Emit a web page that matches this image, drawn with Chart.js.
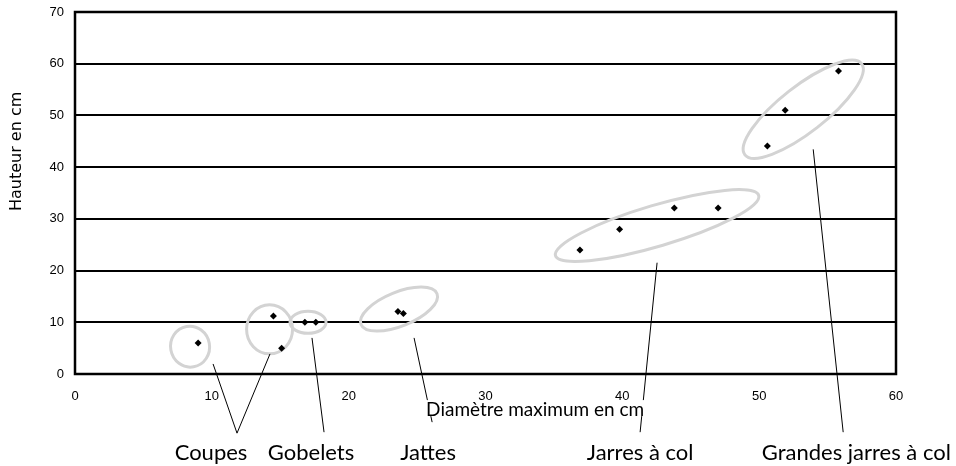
<!DOCTYPE html>
<html>
<head>
<meta charset="utf-8">
<script src="https://cdn.jsdelivr.net/npm/chart.js@4"></script>
<style>
  body { margin: 0; background: #fff; }
  #wrap { width: 956px; height: 466px; }
</style>
</head>
<body>
<div id="wrap"><canvas id="canvas-1"></canvas></div>
<script>
// valeurs
const groupes = ['Coupes', 'Gobelets', 'Jattes', 'Jarres à col', 'Grandes jarres à col']
const diametre = [9, 14.5, 15.1, 16.8, 17.6, 23.6, 24, 36.9, 39.8, 43.8, 47, 50.6, 51.9, 55.8]
const hauteur = [6, 11.2, 5, 10, 10, 12.1, 11.7, 24, 28, 32.1, 32.1, 44.1, 51, 58.6]
const ticksX = [0, 10, 20, 30, 40, 50, 60]
const ticksY = [0, 10, 20, 30, 40, 50, 60, 70]

// ellipses grises autour des groupes (centre en unites, rayons en px, angle en degres)
const ellipses = [
  { x: 8.41, y: 5.29, rx: 19.5, ry: 20.5, a: -10 },
  { x: 14.22, y: 8.63, rx: 23, ry: 24.5, a: 0 },
  { x: 17.03, y: 9.99, rx: 18, ry: 11, a: 0 },
  { x: 23.68, y: 12.55, rx: 41, ry: 17, a: -22 },
  { x: 42.54, y: 28.7, rx: 106, ry: 20.5, a: -16.5 },
  { x: 53.22, y: 51.19, rx: 74, ry: 23, a: -38 }
]

// traits de rappel vers les etiquettes
const traits = [
  [10.09, 1.94, 11.84, -11.44],
  [14.25, 3.88, 11.84, -11.44],
  [17.32, 6.98, 18.2, -11.25],
  [24.78, 6.98, 26.1, -9.31],
  [42.54, 21.52, 41.3, -11.25],
  [53.95, 43.44, 56.14, -11.25]
]
const etiquettesX = [9.94, 17.25, 25.8, 41.3, 57.1]
const etiquetteY = -15.32

const points = diametre.map((d, i) => ({ x: d, y: hauteur[i] }))

const decor = {
  id: 'decor',
  beforeDatasetsDraw(chart) {
    const ctx = chart.ctx
    const xs = chart.scales.x
    const ys = chart.scales.y
    const ca = chart.chartArea
    ctx.save()
    // cadre
    ctx.strokeStyle = '#000'
    ctx.lineWidth = 2.5
    ctx.strokeRect(ca.left, ca.top, ca.right - ca.left, ca.bottom - ca.top)
    // ellipses
    ctx.strokeStyle = '#d3d3d3'
    ctx.lineWidth = 3
    ellipses.forEach(e => {
      ctx.beginPath()
      ctx.ellipse(xs.getPixelForValue(e.x), ys.getPixelForValue(e.y), e.rx, e.ry, e.a * Math.PI / 180, 0, Math.PI * 2)
      ctx.stroke()
    })
    ctx.restore()
  },
  afterDraw(chart) {
    const ctx = chart.ctx
    const xs = chart.scales.x
    const ys = chart.scales.y
    const ca = chart.chartArea
    ctx.save()
    ctx.strokeStyle = '#000'
    ctx.lineWidth = 1
    traits.forEach(t => {
      ctx.beginPath()
      ctx.moveTo(xs.getPixelForValue(t[0]), ys.getPixelForValue(t[1]))
      ctx.lineTo(xs.getPixelForValue(t[2]), ys.getPixelForValue(t[3]))
      ctx.stroke()
    })
    // titre de l'axe X, sur fond blanc
    ctx.font = '19px Lato'
    ctx.textAlign = 'center'
    ctx.textBaseline = 'middle'
    const titre = 'Diamètre maximum en cm'
    const tx = xs.getPixelForValue(33.63)
    const ty = ys.getPixelForValue(-6.98)
    const w = ctx.measureText(titre).width
    ctx.fillStyle = '#fff'
    ctx.fillRect(tx - w / 2 - 2, ty - 10, w + 4, 16)
    ctx.fillStyle = '#000'
    ctx.fillText(titre, tx, ty)
    // etiquettes des groupes
    ctx.font = '22px Lato'
    groupes.forEach((g, i) => {
      ctx.fillText(g, xs.getPixelForValue(etiquettesX[i]), ys.getPixelForValue(etiquetteY))
    })
    // titre de l'axe Y
    ctx.font = '16px "DejaVu Sans"'
    ctx.translate(ca.left - 58, ys.getPixelForValue(43.05))
    ctx.rotate(-Math.PI / 2)
    ctx.fillText('Hauteur en cm', 0, 0)
    ctx.restore()
  }
}

const scatterChart = new Chart(document.getElementById('canvas-1'), {
  type: 'scatter',
  data: {
    datasets: [{
      data: points,
      pointStyle: 'rectRot',
      pointRadius: 3.5,
      pointBackgroundColor: '#000',
      pointBorderColor: '#000',
      pointBorderWidth: 0
    }]
  },
  options: {
    responsive: true,
    maintainAspectRatio: false,
    animation: false,
    layout: { padding: { left: 0, right: 60, top: 12, bottom: 0 } },
    plugins: { legend: { display: false }, tooltip: { enabled: false } },
    scales: {
      x: {
        type: 'linear',
        min: 0,
        max: 60,
        afterBuildTicks: s => { s.ticks = ticksX.map(v => ({ value: v })) },
        afterFit: s => { s.height = 92; s.paddingLeft = 0; s.paddingRight = 0 },
        grid: { display: false, drawTicks: false },
        border: { display: false },
        ticks: { padding: 15, color: '#000', font: { family: 'Liberation Sans', size: 13 } }
      },
      y: {
        type: 'linear',
        min: 0,
        max: 70,
        afterBuildTicks: s => { s.ticks = ticksY.map(v => ({ value: v })) },
        afterFit: s => { s.width = 75; s.paddingTop = 0; s.paddingBottom = 0 },
        grid: { color: '#000', lineWidth: 2, drawTicks: false },
        border: { display: false },
        ticks: { padding: 11, color: '#000', font: { family: 'Liberation Sans', size: 13 } }
      }
    }
  },
  plugins: [decor]
})
</script>
</body>
</html>
